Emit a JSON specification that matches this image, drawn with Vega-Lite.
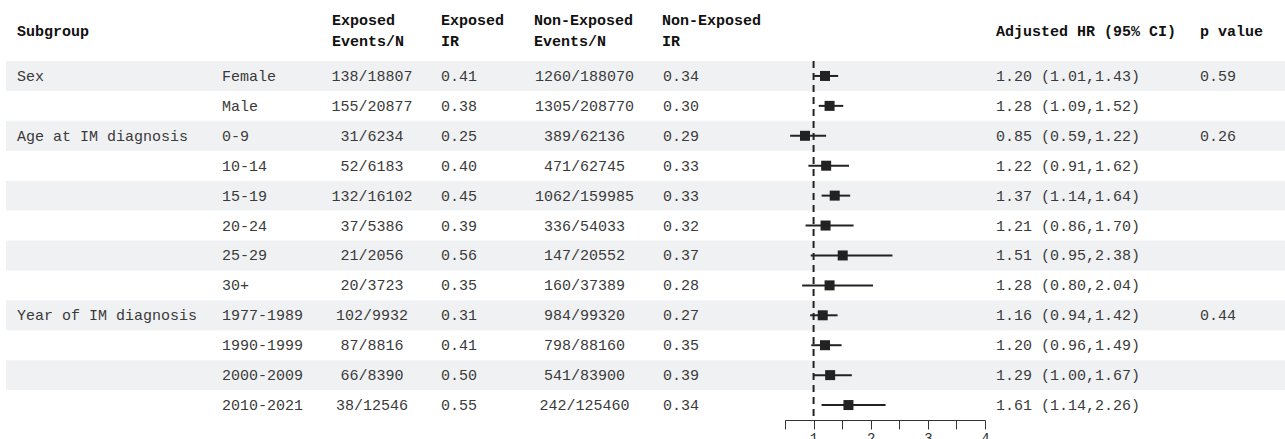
{
  "$schema": "https://vega.github.io/schema/vega-lite/v6.json",
  "padding": {"left": 6, "right": 0, "top": 0, "bottom": 0},
  "spacing": 0,
  "config": {
    "view": {"stroke": null},
    "text": {"font": "Liberation Mono", "fontSize": 15}
  },
  "datasets": {
    "rows": [
      {"row": 1, "grp": "Sex", "level": "Female", "expN": "138/18807", "expIR": "0.41", "nonN": "1260/188070", "nonIR": "0.34", "hr": 1.20, "lo": 1.01, "hi": 1.43, "p": "0.59"},
      {"row": 2, "grp": "", "level": "Male", "expN": "155/20877", "expIR": "0.38", "nonN": "1305/208770", "nonIR": "0.30", "hr": 1.28, "lo": 1.09, "hi": 1.52, "p": ""},
      {"row": 3, "grp": "Age at IM diagnosis", "level": "0-9", "expN": "31/6234", "expIR": "0.25", "nonN": "389/62136", "nonIR": "0.29", "hr": 0.85, "lo": 0.59, "hi": 1.22, "p": "0.26"},
      {"row": 4, "grp": "", "level": "10-14", "expN": "52/6183", "expIR": "0.40", "nonN": "471/62745", "nonIR": "0.33", "hr": 1.22, "lo": 0.91, "hi": 1.62, "p": ""},
      {"row": 5, "grp": "", "level": "15-19", "expN": "132/16102", "expIR": "0.45", "nonN": "1062/159985", "nonIR": "0.33", "hr": 1.37, "lo": 1.14, "hi": 1.64, "p": ""},
      {"row": 6, "grp": "", "level": "20-24", "expN": "37/5386", "expIR": "0.39", "nonN": "336/54033", "nonIR": "0.32", "hr": 1.21, "lo": 0.86, "hi": 1.70, "p": ""},
      {"row": 7, "grp": "", "level": "25-29", "expN": "21/2056", "expIR": "0.56", "nonN": "147/20552", "nonIR": "0.37", "hr": 1.51, "lo": 0.95, "hi": 2.38, "p": ""},
      {"row": 8, "grp": "", "level": "30+", "expN": "20/3723", "expIR": "0.35", "nonN": "160/37389", "nonIR": "0.28", "hr": 1.28, "lo": 0.80, "hi": 2.04, "p": ""},
      {"row": 9, "grp": "Year of IM diagnosis", "level": "1977-1989", "expN": "102/9932", "expIR": "0.31", "nonN": "984/99320", "nonIR": "0.27", "hr": 1.16, "lo": 0.94, "hi": 1.42, "p": "0.44"},
      {"row": 10, "grp": "", "level": "1990-1999", "expN": "87/8816", "expIR": "0.41", "nonN": "798/88160", "nonIR": "0.35", "hr": 1.20, "lo": 0.96, "hi": 1.49, "p": ""},
      {"row": 11, "grp": "", "level": "2000-2009", "expN": "66/8390", "expIR": "0.50", "nonN": "541/83900", "nonIR": "0.39", "hr": 1.29, "lo": 1.00, "hi": 1.67, "p": ""},
      {"row": 12, "grp": "", "level": "2010-2021", "expN": "38/12546", "expIR": "0.55", "nonN": "242/125460", "nonIR": "0.34", "hr": 1.61, "lo": 1.14, "hi": 2.26, "p": ""}
    ],
    "cols": [
      {"key": "grp", "colIndex": 0, "title": "Subgroup"},
      {"key": "level", "colIndex": 1, "title": ""},
      {"key": "expN", "colIndex": 2, "title": "Exposed\nEvents/N"},
      {"key": "expIR", "colIndex": 3, "title": "Exposed\nIR"},
      {"key": "nonN", "colIndex": 4, "title": "Non-Exposed\nEvents/N"},
      {"key": "nonIR", "colIndex": 5, "title": "Non-Exposed\nIR"},
      {"key": "hrci", "colIndex": 6, "title": "Adjusted HR (95% CI)"},
      {"key": "p", "colIndex": 7, "title": "p value"}
    ]
  },
  "vconcat": [
    {
      "width": 1279,
      "height": 60,
      "data": {"name": "cols"},
      "encoding": {
        "x": {
          "field": "colIndex", "type": "quantitative",
          "scale": {"domain": [0, 1, 2, 3, 4, 5, 6, 7], "range": [11, 216, 326, 435, 528, 656, 990, 1194], "nice": false, "zero": false},
          "axis": null
        },
        "text": {"field": "title"}
      },
      "layer": [
        {
          "transform": [{"filter": "indexof(datum.title, '\\n') < 0"}],
          "mark": {"type": "text", "align": "left", "baseline": "middle", "fontWeight": "bold", "color": "#111111", "dy": 1}
        },
        {
          "transform": [{"filter": "indexof(datum.title, '\\n') >= 0"}],
          "mark": {"type": "text", "align": "left", "baseline": "middle", "lineBreak": "\n", "lineHeight": 21, "fontWeight": "bold", "color": "#111111", "dy": -10}
        }
      ]
    },
    {
      "width": 1279,
      "height": 359,
      "data": {"name": "rows"},
      "layer": [
        {
          "transform": [{"filter": {"field": "row", "oneOf": [1, 3, 5, 7, 9, 11]}}],
          "mark": {"type": "rect", "color": "#f0f1f3"},
          "encoding": {
            "y": {"field": "row", "type": "ordinal", "scale": {"type": "band", "paddingInner": 0, "paddingOuter": 0}, "axis": null}
          }
        },
        {
          "transform": [
            {"calculate": "format(datum.hr, '.2f') + ' (' + format(datum.lo, '.2f') + ',' + format(datum.hi, '.2f') + ')'", "as": "hrci"},
            {"fold": ["grp", "level", "expIR", "nonIR", "hrci", "p"], "as": ["key", "txt"]},
            {"lookup": "key", "from": {"data": {"name": "cols"}, "key": "key", "fields": ["colIndex"]}}
          ],
          "mark": {"type": "text", "align": "left", "baseline": "middle", "color": "#3a3a3a"},
          "encoding": {
            "x": {
              "field": "colIndex", "type": "quantitative",
              "scale": {"domain": [0, 1, 2, 3, 4, 5, 6, 7], "range": [11, 216, 366, 435, 578.5, 657, 990, 1194], "nice": false, "zero": false},
              "axis": null
            },
            "y": {"field": "row", "type": "ordinal", "scale": {"type": "band", "paddingInner": 0, "paddingOuter": 0}, "axis": null},
            "text": {"field": "txt"}
          }
        },
        {
          "transform": [
            {"fold": ["expN", "nonN"], "as": ["key", "txt"]},
            {"lookup": "key", "from": {"data": {"name": "cols"}, "key": "key", "fields": ["colIndex"]}}
          ],
          "mark": {"type": "text", "align": "center", "baseline": "middle", "color": "#3a3a3a"},
          "encoding": {
            "x": {
              "field": "colIndex", "type": "quantitative",
              "scale": {"domain": [0, 1, 2, 3, 4, 5, 6, 7], "range": [11, 216, 366, 435, 578.5, 657, 990, 1194], "nice": false, "zero": false},
              "axis": null
            },
            "y": {"field": "row", "type": "ordinal", "scale": {"type": "band", "paddingInner": 0, "paddingOuter": 0}, "axis": null},
            "text": {"field": "txt"}
          }
        },
        {
          "layer": [
            {
              "data": {"values": [{"ref": 1}]},
              "mark": {"type": "rule", "color": "#222222", "strokeWidth": 2, "strokeDash": [7, 5]},
              "encoding": {
                "x": {"field": "ref", "type": "quantitative"}
              }
            },
            {
              "mark": {"type": "rule", "color": "#222222", "strokeWidth": 2},
              "encoding": {
                "x": {"field": "lo", "type": "quantitative"},
                "x2": {"field": "hi"},
                "y": {"field": "row", "type": "ordinal", "scale": {"type": "band", "paddingInner": 0, "paddingOuter": 0}, "axis": null}
              }
            },
            {
              "mark": {"type": "point", "shape": "square", "filled": true, "size": 100, "opacity": 1, "color": "#222222"},
              "encoding": {
                "x": {
                  "field": "hr", "type": "quantitative",
                  "scale": {"domain": [0.5, 4], "range": [779, 979], "nice": false, "zero": false},
                  "axis": {
                    "orient": "bottom", "title": null, "grid": false,
                    "values": [0.5, 1, 1.5, 2, 2.5, 3, 3.5, 4],
                    "labelExpr": "datum.value % 1 === 0 ? format(datum.value, 'd') : ''",
                    "labelFlush": false, "labelOverlap": false,
                    "domainColor": "#333333", "domainWidth": 1,
                    "tickColor": "#333333", "tickWidth": 1, "tickSize": 9,
                    "labelFont": "Liberation Mono", "labelFontSize": 14, "labelColor": "#333333", "labelPadding": 2
                  }
                },
                "y": {"field": "row", "type": "ordinal", "scale": {"type": "band", "paddingInner": 0, "paddingOuter": 0}, "axis": null}
              }
            }
          ]
        }
      ],
      "resolve": {"scale": {"x": "independent"}, "axis": {"x": "independent"}}
    }
  ],
  "resolve": {"scale": {"x": "independent", "y": "independent"}}
}
